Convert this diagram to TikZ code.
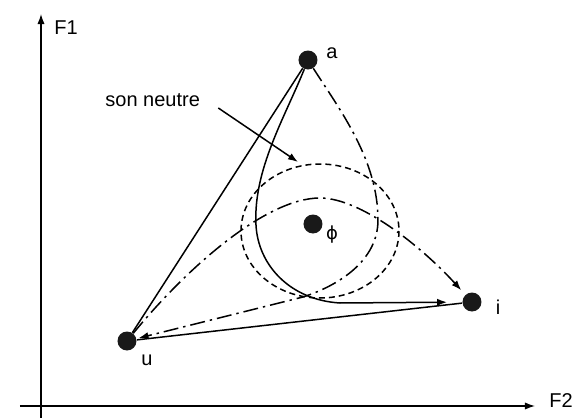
\documentclass[tikz,border=0pt]{standalone}
\usepackage{fontspec}
\setmainfont{Liberation Sans}
\newfontfamily\dvfont{DejaVu Sans}
\usetikzlibrary{arrows.meta}
\begin{document}
\begin{tikzpicture}[x=0.5pt,y=-0.5pt,
  vowel/.style={circle,fill=black!90,inner sep=0pt,minimum size=9.5pt},
  lab/.style={font=\fontsize{10}{12}\selectfont, inner sep=0pt},
  line/.style={line width=0.75pt},
  dashdot/.style={line, dash pattern=on 7.5pt off 2.5pt on 1.2pt off 2.5pt},
  tip/.style={-{Latex[length=5pt,width=3.6pt]}},
  shortdash/.style={line, dash pattern=on 3pt off 2pt}]
\useasboundingbox (0,0) rectangle (575,418);
% vowels
\node[vowel] (a) at (308,60) {};
\node[vowel] (u) at (127,341) {};
\node[vowel] (i) at (472,302) {};
\node[vowel] (phi) at (313,224) {};
\node[lab] (la) at (332,53) {a};
\node[lab] (lu) at (147,360) {u};
\node[lab] (li) at (498,307) {i};
\node[lab,font=\dvfont\fontsize{9}{11}\selectfont] (lphi) at (332,235) {ϕ};
% axes
\coordinate (yb) at (41,418);
\coordinate (yt) at (41,14);
\coordinate (xl) at (20,406);
\coordinate (xr) at (535,406);
\draw[line width=0.6pt,tip] (yb) -- (yt);
\draw[line width=0.6pt,tip] (xl) -- (xr);
\node[lab] (F1) at (66,28) {F1};
\node[lab] (F2) at (561,401) {F2};
% neutral region
\draw[shortdash] (320,231) ellipse [x radius=79, y radius=67];
\node[lab,anchor=west] (sn) at (105,100) {son neutre};
\coordinate (snend) at (298,162);
\draw[line,tip] ([shift={(18,8)}]sn.east) -- (snend);
% solid trajectories
\draw[line] (a) -- (u);
\draw[line] (u) -- (i);
\draw[line,tip,shorten >=7.5pt] (a) .. controls (285,117) and (253,170) .. (256,225)
   .. controls (258,265) and (290,300) .. (340,303) -- (i);
% dash-dot trajectories
\draw[dashdot,tip,shorten >=1pt] (a) .. controls (340,110) and (378,160) .. (378,220)
   .. controls (378,260) and (340,285) .. (303,297) -- (u);
\draw[dashdot,tip,shorten >=3pt] (u) .. controls (185,270) and (265,198) .. (320,198)
   .. controls (360,198) and (420,245) .. (i);
\end{tikzpicture}
\end{document}
